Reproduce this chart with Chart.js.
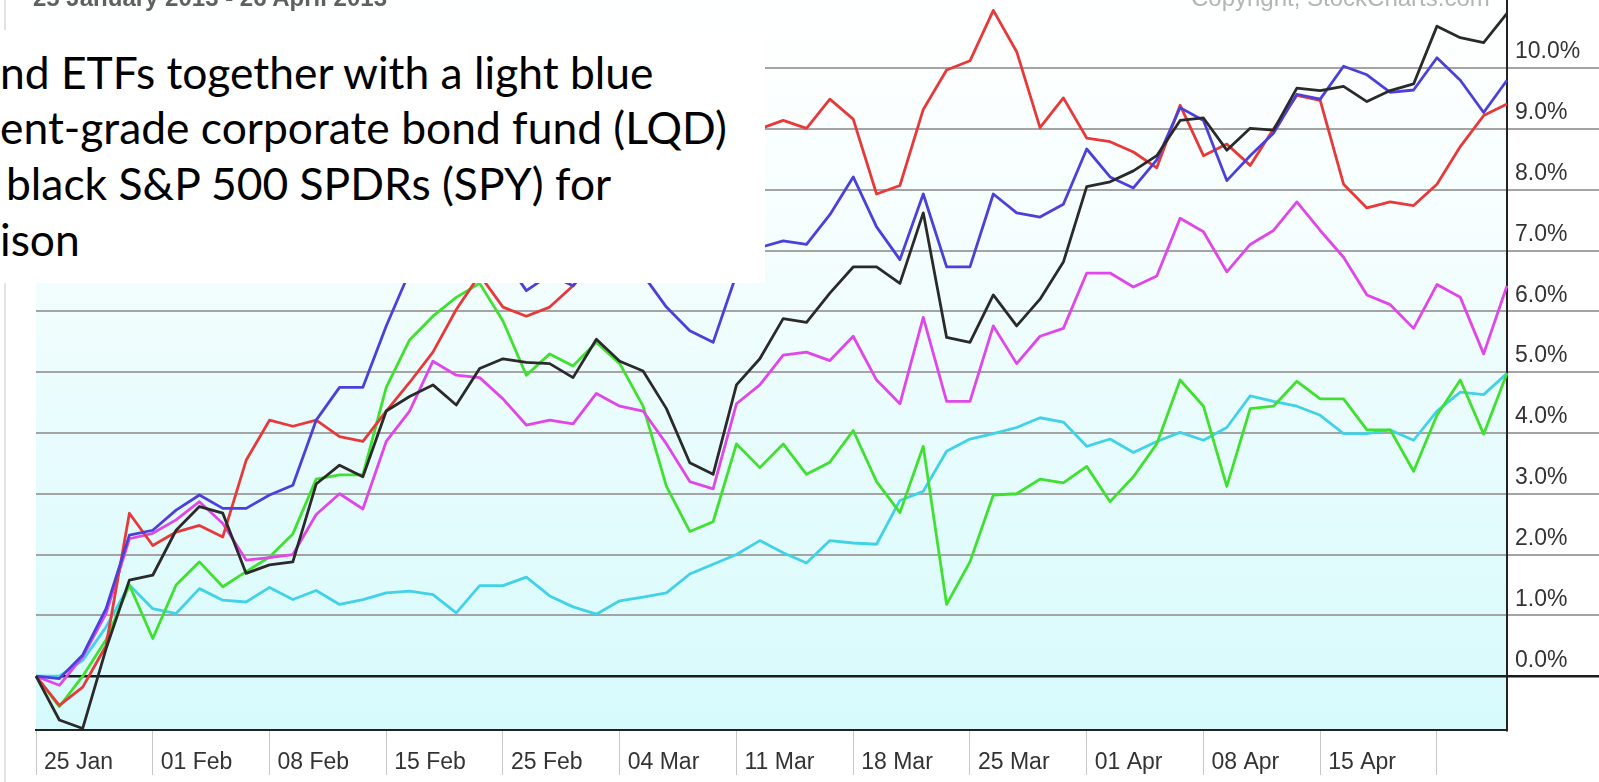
<!DOCTYPE html>
<html>
<head>
<meta charset="utf-8">
<script src="https://cdn.jsdelivr.net/npm/chart.js@4.4.1/dist/chart.umd.min.js"></script>
<style>
  html, body { margin: 0; padding: 0; background: #fff; }
  #wrap { position: relative; width: 1599px; height: 782px; overflow: hidden; }
  #chart { position: absolute; left: 0; top: 0; }
  .frame { position: absolute; left: 4px; top: 0; width: 2px; height: 782px; background: #e3e3e3; }
  .title { position: absolute; left: 33px; top: -16px; font: bold 24px 'Liberation Sans', Arial, sans-serif; color: #606060; white-space: pre; }
  .copy { position: absolute; left: 1191px; top: -16px; font: 24px 'Liberation Sans', Arial, sans-serif; color: #b4b4b4; white-space: pre; }
  #note { position: absolute; left: 0; top: 30px; width: 765px; height: 253px; background: #fff; overflow: hidden; }
  #note div { position: absolute; left: 0; top: 0; white-space: pre; font-family: Lato, 'Open Sans', sans-serif; font-size: 40px; color: #000; line-height: 1; }
</style>
</head>
<body>
<div id="wrap">
  <canvas id="chart" width="1599" height="782"></canvas>
  <div class="frame"></div>
  <div class="title">25 January 2013 - 26 April 2013</div>
  <div class="copy">Copyright, StockCharts.com</div>
  <div id="note"></div>
</div>
<script>
// trading days on the x axis
const days = ['25 Jan','28 Jan','29 Jan','30 Jan','31 Jan','01 Feb','04 Feb','05 Feb','06 Feb','07 Feb',
  '08 Feb','11 Feb','12 Feb','13 Feb','14 Feb','15 Feb','19 Feb','20 Feb','21 Feb','22 Feb',
  '25 Feb','26 Feb','27 Feb','28 Feb','01 Mar','04 Mar','05 Mar','06 Mar','07 Mar','08 Mar',
  '11 Mar','12 Mar','13 Mar','14 Mar','15 Mar','18 Mar','19 Mar','20 Mar','21 Mar','22 Mar',
  '25 Mar','26 Mar','27 Mar','28 Mar','29 Mar','01 Apr','02 Apr','03 Apr','04 Apr','05 Apr',
  '08 Apr','09 Apr','10 Apr','11 Apr','12 Apr','15 Apr','16 Apr','17 Apr','18 Apr','19 Apr',
  '22 Apr','23 Apr','24 Apr','25 Apr'];
const tickLabels = ['25 Jan','01 Feb','08 Feb','15 Feb','25 Feb','04 Mar','11 Mar','18 Mar','25 Mar','01 Apr','08 Apr','15 Apr'];
const yTicks = [0, 1, 2, 3, 4, 5, 6, 7, 8, 9, 10];

// % change since 25 Jan
const spy = [0, -0.72, -0.86, 0.45, 1.58, 1.66, 2.40, 2.79, 2.68, 1.69,
  1.83, 1.88, 3.16, 3.47, 3.28, 4.36, 4.60, 4.79, 4.46, 5.06,
  5.22, 5.16, 5.14, 4.91, 5.54, 5.18, 5.02, 4.40, 3.51, 3.32,
  4.79, 5.22, 5.88, 5.82, 6.30, 6.73, 6.73, 6.46, 7.62, 5.57,
  5.49, 6.27, 5.76, 6.20, 6.81, 8.05, 8.13, 8.31, 8.56, 9.14,
  9.18, 8.65, 9.01, 8.98, 9.67, 9.63, 9.70, 9.45, 9.63, 9.74,
  10.69, 10.50, 10.42, 10.90];
const blueFund = [0, -0.04, 0.35, 1.11, 2.32, 2.40, 2.73, 2.98, 2.76, 2.76,
  2.98, 3.14, 4.21, 4.75, 4.75, 5.76, 6.65, 7.10, 7.40, 7.30,
  6.90, 6.34, 6.60, 6.42, 6.90, 7.10, 6.60, 6.07, 5.68, 5.49,
  6.61, 7.05, 7.16, 7.10, 7.59, 8.21, 7.39, 6.85, 7.93, 6.73,
  6.73, 7.93, 7.62, 7.55, 7.76, 8.67, 8.21, 8.03, 8.49, 9.35,
  9.14, 8.15, 8.56, 8.93, 9.57, 9.49, 10.03, 9.89, 9.60, 9.64,
  10.17, 9.80, 9.27, 9.80];
const redFund = [0, -0.48, -0.18, 0.50, 2.68, 2.15, 2.37, 2.48, 2.29, 3.55,
  4.21, 4.11, 4.21, 3.94, 3.86, 4.36, 4.83, 5.33, 6.03, 6.60,
  6.07, 5.92, 6.07, 6.42, 6.90, 7.30, 7.60, 7.90, 8.20, 8.50,
  8.80, 9.00, 9.14, 9.01, 9.49, 9.16, 7.93, 8.07, 9.32, 9.97,
  10.12, 10.95, 10.27, 9.02, 9.51, 8.85, 8.79, 8.62, 8.36, 9.39,
  8.56, 8.75, 8.40, 9.00, 9.55, 9.47, 8.09, 7.70, 7.80, 7.74,
  8.09, 8.71, 9.22, 9.41];
const magentaFund = [0, -0.15, 0.32, 1.03, 2.26, 2.35, 2.57, 2.87, 2.51, 1.91,
  1.95, 2.00, 2.66, 3.00, 2.75, 3.86, 4.36, 5.18, 4.95, 4.91,
  4.56, 4.13, 4.21, 4.15, 4.65, 4.44, 4.36, 3.82, 3.20, 3.08,
  4.48, 4.79, 5.28, 5.33, 5.19, 5.59, 4.87, 4.48, 5.90, 4.52,
  4.52, 5.76, 5.14, 5.59, 5.72, 6.63, 6.63, 6.40, 6.58, 7.53,
  7.31, 6.65, 7.10, 7.33, 7.80, 7.33, 6.89, 6.27, 6.11, 5.72,
  6.44, 6.23, 5.30, 6.42];
const greenFund = [0, -0.50, 0.00, 0.60, 1.50, 0.62, 1.50, 1.88, 1.47, 1.72,
  1.96, 2.34, 3.24, 3.31, 3.31, 4.75, 5.53, 5.92, 6.23, 6.46,
  5.84, 4.95, 5.30, 5.10, 5.49, 5.14, 4.44, 3.12, 2.38, 2.54,
  3.82, 3.43, 3.82, 3.32, 3.52, 4.04, 3.20, 2.69, 3.78, 1.18,
  1.88, 2.98, 3.00, 3.24, 3.18, 3.45, 2.87, 3.28, 3.82, 4.87,
  4.44, 3.12, 4.40, 4.44, 4.85, 4.56, 4.56, 4.05, 4.05, 3.37,
  4.29, 4.87, 3.98, 4.98];
const lqd = [0, 0.00, 0.26, 0.81, 1.50, 1.11, 1.03, 1.44, 1.25, 1.22,
  1.46, 1.26, 1.41, 1.18, 1.26, 1.37, 1.40, 1.34, 1.04, 1.49,
  1.49, 1.63, 1.32, 1.14, 1.02, 1.24, 1.30, 1.37, 1.68, 1.84,
  2.00, 2.23, 2.03, 1.86, 2.23, 2.19, 2.17, 2.89, 3.04, 3.70,
  3.90, 3.99, 4.09, 4.25, 4.18, 3.78, 3.90, 3.68, 3.86, 4.01,
  3.88, 4.09, 4.61, 4.52, 4.44, 4.29, 3.99, 3.99, 4.05, 3.88,
  4.36, 4.67, 4.63, 4.98];

const noteLines = ['nd ETFs together with a light blue', 'ent-grade corporate bond fund (LQD)', 'black S&P 500 SPDRs (SPY) for', 'ison'];

// text box over the chart
const note = document.getElementById('note');
const noteDivs = noteLines.map(function(txt) {
    const d = document.createElement('div');
    d.textContent = txt;
    const m = document.createElement('span');
    m.style.cssText = 'display:inline-block;width:0;height:0;vertical-align:baseline';
    d.appendChild(m);
    note.appendChild(d);
    return d;
});
const fs = 40 * 727 / noteDivs[1].offsetWidth;
const baselines = [89, 144, 200, 256];
const lefts = [0, 0, 6, 0];
noteDivs.forEach(function(d, k) {
    d.style.fontSize = fs + 'px';
    d.style.left = lefts[k] + 'px';
    const m = d.lastChild;
    d.style.top = (baselines[k] - 30 - m.offsetTop) + 'px';
});

const plotBg = {
    id: 'plotBg',
    beforeDraw(chart) {
        const {ctx, chartArea: a} = chart;
        ctx.save();
        ctx.fillStyle = '#fff';
        ctx.fillRect(0, 0, chart.width, chart.height);
        const g = ctx.createLinearGradient(0, a.top, 0, a.bottom);
        g.addColorStop(0, '#ffffff');
        g.addColorStop(0.3, '#f6fefe');
        g.addColorStop(0.6, '#e8fcfd');
        g.addColorStop(1, '#d6fafc');
        ctx.fillStyle = g;
        ctx.fillRect(a.left, a.top, a.right - a.left, a.bottom - a.top);
        ctx.restore();
    }
};

function line(label, data, color) {
    return {
        label: label,
        data: data,
        borderColor: color,
        borderWidth: 2.8,
        pointRadius: 0,
        tension: 0,
        fill: false,
        borderJoinStyle: 'round'
    };
}

new Chart(document.getElementById('chart'), {
    type: 'line',
    data: {
        labels: days,
        datasets: [
            line('SPY', spy, '#2a2a2a'),
            line('Blue fund', blueFund, '#4b40d9'),
            line('Red fund', redFund, '#e8393a'),
            line('Magenta fund', magentaFund, '#e046e8'),
            line('Green fund', greenFund, '#40e02e'),
            line('LQD', lqd, '#42d2e6')
        ]
    },
    options: {
        responsive: false,
        devicePixelRatio: 1,
        animation: false,
        events: [],
        layout: { padding: { left: 36, top: 0, right: 0, bottom: 0 } },
        plugins: {
            legend: { display: false },
            tooltip: { enabled: false }
        },
        scales: {
            x: {
                grid: {
                    drawOnChartArea: false,
                    drawTicks: true,
                    tickLength: 45,
                    lineWidth: 1,
                    color: c => c.index % 5 === 0 ? '#c8c8c8' : 'rgba(0,0,0,0)'
                },
                border: { display: true, color: '#222', width: 2 },
                ticks: {
                    autoSkip: false,
                    maxRotation: 0,
                    minRotation: 0,
                    align: 'start',
                    labelOffset: 8,
                    padding: -26,
                    color: '#333',
                    font: { family: "'Liberation Sans', Arial, sans-serif", size: 23 },
                    callback: function(v) {
                        const lab = this.getLabelForValue(v);
                        return tickLabels.includes(lab) ? lab : '';
                    }
                },
                afterFit: s => { s.height = 52; }
            },
            y: {
                position: 'right',
                min: -0.885,
                max: 11.12,
                afterBuildTicks: s => { s.ticks = yTicks.map(v => ({ value: v })); },
                afterFit: s => { s.width = 92; },
                grid: {
                    drawTicks: true,
                    tickLength: 92,
                    color: c => c.tick && c.tick.value === 0 ? '#1c1c1c' : '#a4a4a4',
                    lineWidth: c => c.tick && c.tick.value === 0 ? 2.5 : 2
                },
                border: { display: true, color: '#222', width: 2 },
                ticks: {
                    padding: -84,
                    labelOffset: -16,
                    color: '#333',
                    font: { family: "'Liberation Sans', Arial, sans-serif", size: 23 },
                    callback: v => v.toFixed(1) + '%'
                }
            }
        }
    },
    plugins: [plotBg]
});
</script>
</body>
</html>
